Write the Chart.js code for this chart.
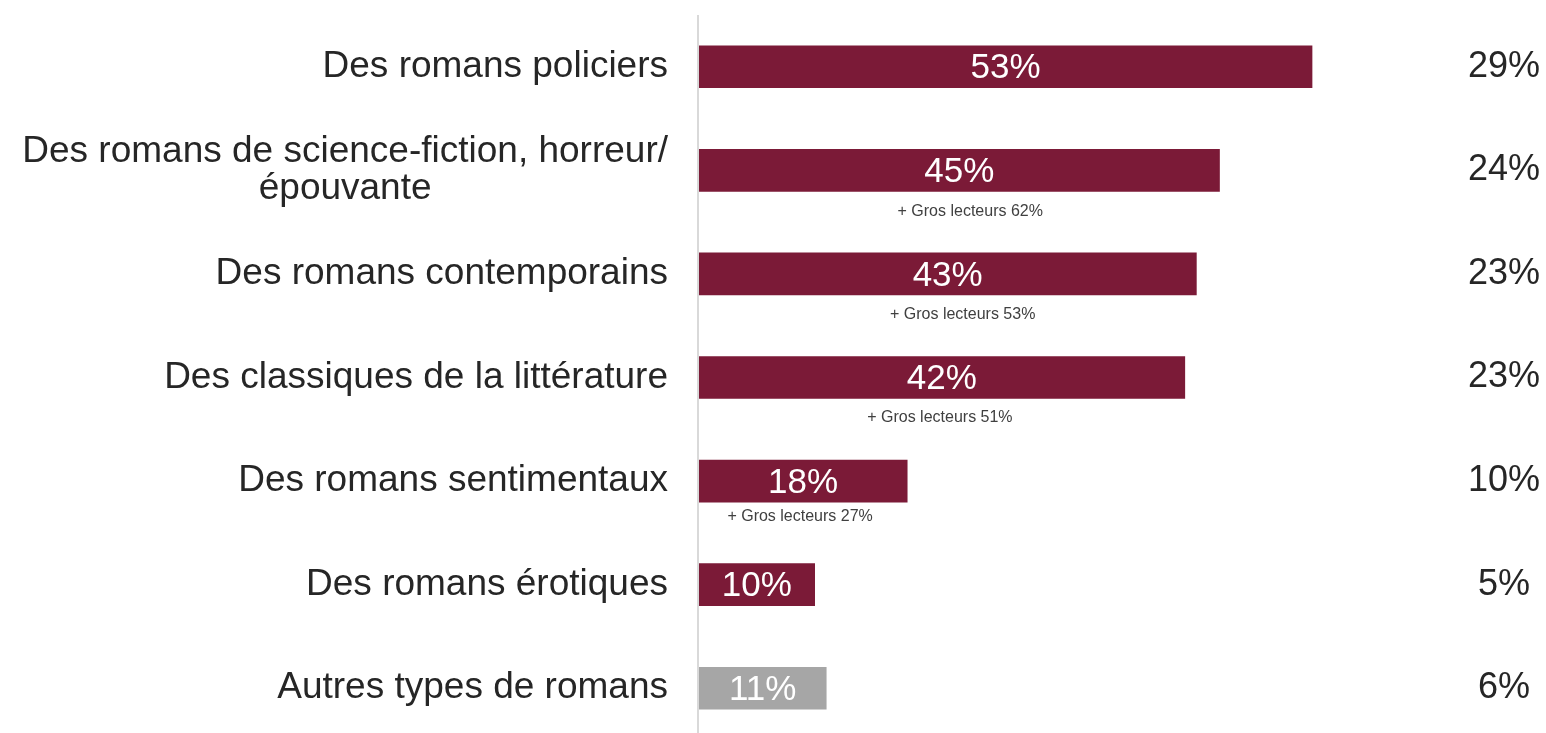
<!DOCTYPE html>
<html>
<head>
<meta charset="utf-8">
<script src="https://cdn.jsdelivr.net/npm/chart.js@4/dist/chart.umd.min.js"></script>
<style>
  html, body { margin: 0; padding: 0; background: #ffffff; overflow: hidden; }
  #wrap { position: relative; width: 1546px; height: 740px; }
</style>
</head>
<body>
<div id="wrap"><canvas id="c" width="1546" height="740"></canvas></div>
<script>
const categories = [
  ["Des romans policiers"],
  ["Des romans de science-fiction, horreur/", "épouvante"],
  ["Des romans contemporains"],
  ["Des classiques de la littérature"],
  ["Des romans sentimentaux"],
  ["Des romans érotiques"],
  ["Autres types de romans"]
];
const readerValues = [53, 45, 43, 42, 18, 10, 11];
const totalValues = [29, 24, 23, 23, 10, 5, 6];
const heavyReaderValues = [null, 62, 53, 51, 27, null, null];

const MAROON = "#7B1A37";
const GREY = "#A6A6A6";
const FONT = "'Liberation Sans', Arial, Helvetica, sans-serif";
// placement tweaks of the small "Gros lecteurs" notes (px, relative to bar centre)
const NOTE_DX = [0, 11, 15, -2, -3, 0, 0];
const NOTE_DY = [0, 41, 41, 40, 36, 0, 0];

const overlay = {
  id: "overlay",
  afterDatasetsDraw(chart) {
    const ctx = chart.ctx;
    const area = chart.chartArea;
    const y = chart.scales.y;
    const x = chart.scales.x;
    ctx.save();
    // vertical axis line
    ctx.strokeStyle = "#D9D9D9";
    ctx.lineWidth = 2;
    ctx.beginPath();
    ctx.moveTo(area.left - 1, area.top);
    ctx.lineTo(area.left - 1, chart.height);
    ctx.stroke();

    categories.forEach((lines, i) => {
      const cy = y.getPixelForValue(i);
      // category labels
      ctx.font = "37px " + FONT;
      ctx.fillStyle = "#262626";
      ctx.textBaseline = "middle";
      const rightEdge = area.left - 31;
      const widths = lines.map(l => ctx.measureText(l).width);
      const maxW = Math.max(...widths);
      const lh = 37;
      const startY = cy - (lines.length - 1) * lh / 2;
      lines.forEach((l, k) => {
        ctx.textAlign = "center";
        ctx.fillText(l, rightEdge - maxW / 2, startY + k * lh);
      });

      // value inside bar
      const x0 = x.getPixelForValue(0);
      const x1 = x.getPixelForValue(readerValues[i]);
      ctx.font = "35px " + FONT;
      ctx.fillStyle = "#ffffff";
      ctx.textAlign = "center";
      ctx.fillText(readerValues[i] + "%", (x0 + x1) / 2, cy + 2);

      // heavy reader annotation
      if (heavyReaderValues[i] !== null) {
        ctx.font = "16px " + FONT;
        ctx.fillStyle = "#404040";
        ctx.fillText("+ Gros lecteurs " + heavyReaderValues[i] + "%", (x0 + x1) / 2 + NOTE_DX[i], cy + NOTE_DY[i]);
      }

      // right column totals
      ctx.font = "36px " + FONT;
      ctx.fillStyle = "#262626";
      ctx.textAlign = "center";
      ctx.fillText(totalValues[i] + "%", 1504, cy);
    });
    ctx.restore();
  }
};

new Chart(document.getElementById("c"), {
  type: "bar",
  data: {
    labels: categories,
    datasets: [{
      data: readerValues,
      backgroundColor: readerValues.map((v, i) => i === readerValues.length - 1 ? GREY : MAROON),
      borderWidth: 0,
      barThickness: 42
    }]
  },
  options: {
    indexAxis: "y",
    responsive: false,
    animation: false,
    events: [],
    layout: { padding: { left: 699, right: 153, top: 15, bottom: 0 } },
    plugins: { legend: { display: false }, tooltip: { enabled: false } },
    scales: {
      x: { display: false, min: 0, max: 60 },
      y: { display: false }
    }
  },
  plugins: [overlay]
});
</script>
</body>
</html>
